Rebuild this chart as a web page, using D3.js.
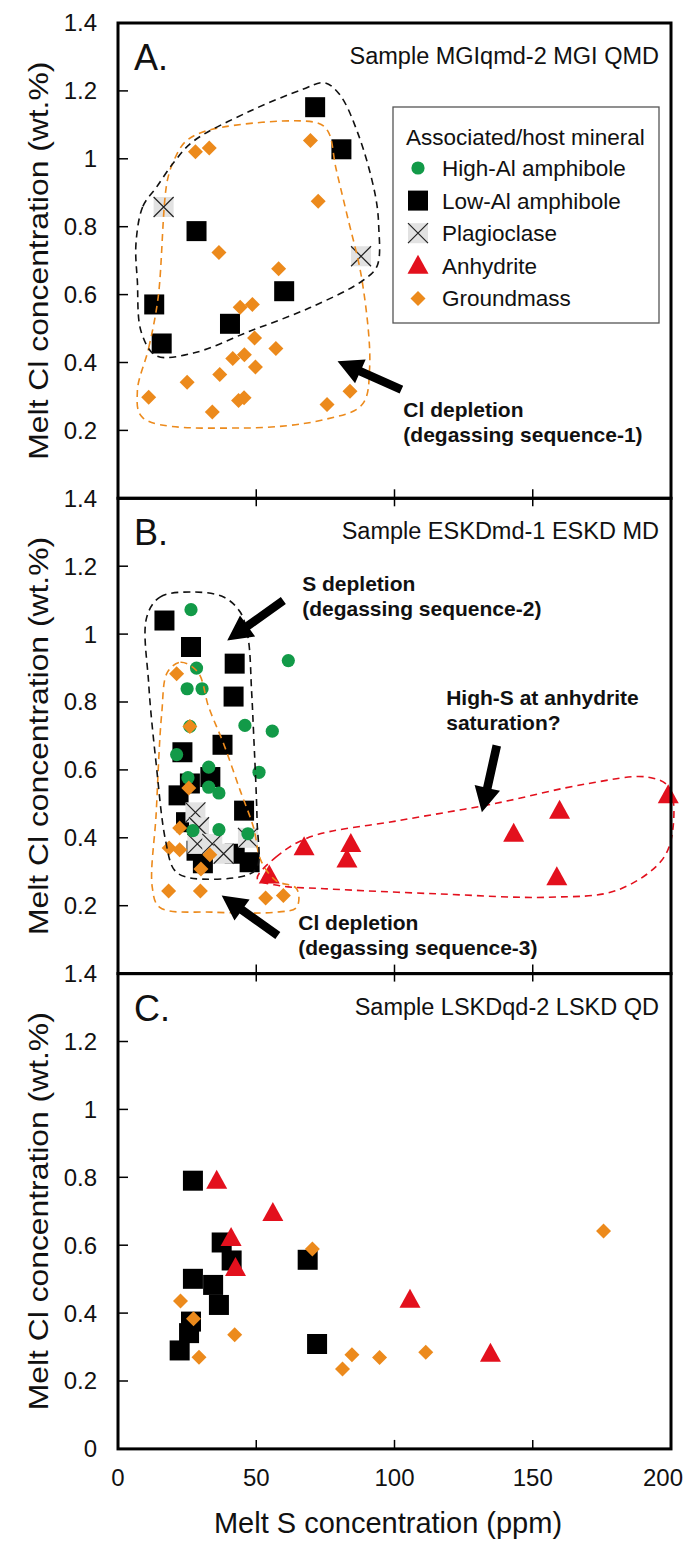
<!DOCTYPE html>
<html>
<head>
<meta charset="utf-8">
<title>Melt Cl vs melt S</title>
<script src="https://cdn.jsdelivr.net/npm/d3@7"></script>
<style>
body { margin: 0; background: #fff; }
svg text { font-family: "Liberation Sans", Arial, Helvetica, sans-serif; fill: #111; }
</style>
</head>
<body>
<div id="chart"></div>
<script>

// ---- data (S ppm, Cl wt.%) ----
// panel A : MGIqmd-2
const aLowAl = [[71.3,1.152],[80.8,1.028],[28.4,0.787],[13.1,0.571],[15.8,0.456],[40.5,0.514],[60.1,0.610]];
const aPlag = [[16.5,0.858],[87.9,0.713]];
const aGround = [[69.6,1.054],[28.0,1.021],[33.0,1.032],[72.4,0.875],[36.5,0.724],[58.1,0.676],[44.2,0.563],
	[48.6,0.571],[49.4,0.472],[57.1,0.441],[41.5,0.412],[45.7,0.423],[49.7,0.387],[36.8,0.365],[25.0,0.342],
	[11.1,0.298],[34.1,0.254],[43.6,0.288],[45.6,0.296],[75.6,0.276],[83.9,0.315]];

// panel B : ESKDmd-1
const bHighAl = [[26.4,1.072],[61.6,0.922],[28.4,0.900],[25.0,0.839],[30.4,0.839],[26.0,0.728],[45.9,0.731],
	[55.8,0.714],[21.2,0.645],[32.8,0.608],[51.0,0.593],[25.3,0.577],[32.8,0.549],[36.5,0.532],[27.1,0.421],
	[36.5,0.424],[47.0,0.412]];
const bLowAl = [[16.8,1.040],[26.4,0.962],[42.2,0.913],[41.8,0.816],[23.3,0.652],[37.8,0.674],[33.4,0.579],
	[26.0,0.560],[21.9,0.525],[45.6,0.480],[24.6,0.446],[28.4,0.362],[30.7,0.325],[42.2,0.353],[47.6,0.328]];
const bPlag = [[28.0,0.475],[29.3,0.431],[28.7,0.382],[34.1,0.382],[38.2,0.353],[47.0,0.400]];
const bAnhy = [[54.7,0.289],[67.3,0.372],[84.2,0.382],[82.8,0.336],[143.1,0.412],[159.7,0.480],[158.7,0.284],[199.0,0.525]];
const bGround = [[21.2,0.883],[26.0,0.728],[25.6,0.547],[22.3,0.429],[18.5,0.370],[22.3,0.365],[33.2,0.350],
	[30.0,0.308],[18.3,0.243],[29.8,0.243],[53.4,0.223],[59.8,0.230]];

// panel C : LSKDqd-2
const cLowAl = [[27.1,0.790],[37.5,0.608],[41.1,0.555],[68.6,0.557],[27.1,0.501],[34.4,0.483],[36.5,0.424],
	[26.4,0.375],[25.7,0.341],[22.3,0.290],[72.0,0.309]];
const cAnhy = [[35.7,0.790],[56.0,0.695],[40.9,0.621],[42.5,0.533],[105.6,0.439],[134.7,0.280]];
const cGround = [[70.3,0.589],[175.6,0.642],[22.6,0.436],[27.3,0.383],[42.2,0.336],[29.3,0.270],[84.6,0.277],
	[94.6,0.269],[81.2,0.235],[111.3,0.285]];

// dashed outlines (S, Cl)
const aHullBlack = [[6.5,0.75],[9,0.86],[13.8,0.915],[20.5,0.993],[27.3,1.052],[47.6,1.14],[66.6,1.204],[74.6,1.224],
	[80.1,1.19],[86.9,1.072],[93.0,0.895],[94.3,0.80],[93.7,0.684],[88.3,0.640],[69.3,0.561],[47.6,0.492],
	[27.3,0.428],[13.8,0.42],[8.4,0.49],[7.0,0.64]];
const aHullOrange = [[7.0,0.315],[11.1,0.443],[14.5,0.590],[17.8,0.934],[20.5,1.0],[24.6,1.052],[34.1,1.087],
	[72,1.106],[76,1.08],[78.8,0.973],[82.8,0.836],[88.3,0.64],[91.0,0.384],[88.3,0.276],[74.7,0.232],
	[44.9,0.207],[9.0,0.237]];
const bHullBlack = [[10.4,1.05],[15.2,1.109],[27.3,1.124],[38.2,1.109],[44.2,1.065],[47.0,0.991],[48.3,0.834],
	[49,0.716],[50.3,0.451],[50.3,0.313],[46.3,0.289],[26,0.282],[20.5,0.304],[17.2,0.392],[13.8,0.618],[11.1,0.854]];
const bHullOrange = [[17.9,0.888],[22.6,0.917],[28.9,0.888],[32.8,0.785],[38.2,0.677],[44.2,0.539],[49.0,0.431],
	[51.7,0.333],[57.1,0.274],[64.6,0.25],[64.6,0.195],[57.1,0.181],[34.1,0.181],[15.1,0.195],[12.4,0.254],
	[13.8,0.471],[15.8,0.765]];
const bHullRed = [[50.4,0.279],[57.1,0.343],[69.3,0.402],[101.8,0.451],[135.7,0.5],[169.5,0.559],[191.2,0.579],
	[199.3,0.549],[200.6,0.421],[196.6,0.333],[180.3,0.245],[155.9,0.225],[115.3,0.235],[74.7,0.25],[58.5,0.259]];

// arrows: tail -> head
const aArrows = [[[102.5,0.32],[79.4,0.404]]];
const bArrows = [[[59.8,1.099],[39.5,0.981]], [[137,0.672],[131.6,0.475]], [[57.8,0.112],[37.5,0.23]]];

// notes: [S, Cl, line1, line2]
const aNotes = [[103.2,0.239,"Cl depletion","(degassing sequence-1)"]];
const bNotes = [[66.6,1.127,"S depletion","(degassing sequence-2)"],
	[118.7,0.791,"High-S at anhydrite","saturation?"],
	[65.2,0.128,"Cl depletion","(degassing sequence-3)"]];

const xTicks = [0, 50, 100, 150, 200];
const yTicks = [0, 0.2, 0.4, 0.6, 0.8, 1, 1.2, 1.4];
const legendNames = ["High-Al amphibole","Low-Al amphibole","Plagioclase","Anhydrite","Groundmass"];
const legendTypes = ["circle","square","plag","triangle","diamond"];


// ---- layout ----
const W = 684, H = 1544;
const left = 118, right = 671;
const top0 = 23, panelH = 475.3;

const green = "#129a48", orange = "#ec8a1c", red = "#e3101d";

const x = d3.scaleLinear().domain([0, 200]).range([left, right]);

const panels = [
	{letter: "A.", sample: "Sample MGIqmd-2 MGI QMD",
	 series: [["square", aLowAl], ["plag", aPlag], ["diamond", aGround]],
	 hulls: [[aHullOrange, orange], [aHullBlack, "#111"]],
	 arrows: aArrows, notes: aNotes, legend: true},
	{letter: "B.", sample: "Sample ESKDmd-1 ESKD MD",
	 series: [["square", bLowAl], ["plag", bPlag], ["circle", bHighAl], ["triangle", bAnhy], ["diamond", bGround]],
	 hulls: [[bHullOrange, orange], [bHullBlack, "#111"], [bHullRed, red]],
	 arrows: bArrows, notes: bNotes, legend: false},
	{letter: "C.", sample: "Sample LSKDqd-2 LSKD QD",
	 series: [["square", cLowAl], ["triangle", cAnhy], ["diamond", cGround]],
	 hulls: [], arrows: [], notes: [], legend: false}
];

let svg = d3.select("#chart").append("svg")
	.attr("width", W)
	.attr("height", H);

function marker(g, type, cx, cy) {
	if (type == "square") {
		g.append("rect").attr("x", cx - 10).attr("y", cy - 10).attr("width", 20).attr("height", 20).attr("fill", "#000");
	} else if (type == "plag") {
		g.append("rect").attr("x", cx - 10).attr("y", cy - 10).attr("width", 20).attr("height", 20).attr("fill", "#e2e2e2");
		g.append("path").attr("d", `M${cx-10},${cy-10}L${cx+10},${cy+10}M${cx+10},${cy-10}L${cx-10},${cy+10}`)
			.attr("stroke", "#222").attr("stroke-width", 1.2);
	} else if (type == "circle") {
		g.append("circle").attr("cx", cx).attr("cy", cy).attr("r", 6.6).attr("fill", green);
	} else if (type == "triangle") {
		g.append("path").attr("d", `M${cx},${cy-11}L${cx+10.5},${cy+8}L${cx-10.5},${cy+8}Z`).attr("fill", red);
	} else if (type == "diamond") {
		g.append("path").attr("d", `M${cx},${cy-7.5}L${cx+7.5},${cy}L${cx},${cy+7.5}L${cx-7.5},${cy}Z`).attr("fill", orange);
	}
}

function arrow(g, p0, p1) {
	const dx = p1[0] - p0[0], dy = p1[1] - p0[1];
	const len = Math.sqrt(dx*dx + dy*dy);
	const ux = dx/len, uy = dy/len, nx = -uy, ny = ux;
	const hl = 25, hw = 13, sw = 4.3;
	const bx = p1[0] - ux*hl, by = p1[1] - uy*hl;
	const pts = [
		[p0[0] + nx*sw, p0[1] + ny*sw], [bx + nx*sw, by + ny*sw], [bx + nx*hw, by + ny*hw], p1,
		[bx - nx*hw, by - ny*hw], [bx - nx*sw, by - ny*sw], [p0[0] - nx*sw, p0[1] - ny*sw]];
	g.append("path").attr("d", "M" + pts.map(p => p.join(",")).join("L") + "Z").attr("fill", "#000");
}

panels.forEach((p, i) => {
	const top = top0 + i*panelH, bottom = top + panelH;
	const y = d3.scaleLinear().domain([0, 1.4]).range([bottom, top]);
	const g = svg.append("g").attr("class", "panel" + i);

	// points
	p.series.forEach(s => {
		const sg = g.append("g").attr("class", s[0]);
		s[1].forEach(d => marker(sg, s[0], x(d[0]), y(d[1])));
	});

	// dashed outlines on top of the points
	const line = d3.line().x(d => x(d[0])).y(d => y(d[1])).curve(d3.curveCatmullRomClosed.alpha(0.5));
	p.hulls.forEach(h => {
		g.append("path").datum(h[0]).attr("d", line)
			.attr("fill", "none").attr("stroke", h[1]).attr("stroke-width", 1.6).attr("stroke-dasharray", "7,5");
	});

	p.arrows.forEach(a => arrow(g, [x(a[0][0]), y(a[0][1])], [x(a[1][0]), y(a[1][1])]));

	p.notes.forEach(n => {
		const t = g.append("text").attr("x", x(n[0])).attr("y", y(n[1]))
			.attr("font-size", 21).attr("font-weight", "bold");
		t.append("tspan").text(n[2]);
		t.append("tspan").attr("x", x(n[0])).attr("dy", 25).text(n[3]);
	});

	// frame
	g.append("rect").attr("x", left).attr("y", top).attr("width", right - left).attr("height", panelH)
		.attr("fill", "none").attr("stroke", "#000").attr("stroke-width", 3);

	// y ticks (inside) and labels
	yTicks.forEach(v => {
		if (v > 0 && v < 1.4) {
			g.append("line").attr("x1", left).attr("x2", left + 10).attr("y1", y(v)).attr("y2", y(v))
				.attr("stroke", "#000").attr("stroke-width", 1.5);
		}
		if (v > 0 || i == 2) {
			g.append("text").attr("x", 97).attr("y", y(v)).attr("dy", "0.35em")
				.attr("text-anchor", "end").attr("font-size", 24).text(v);
		}
	});

	// x ticks (inside) at bottom, and at top for lower panels
	xTicks.slice(1, -1).forEach(v => {
		g.append("line").attr("x1", x(v)).attr("x2", x(v)).attr("y1", bottom).attr("y2", bottom - 9)
			.attr("stroke", "#000").attr("stroke-width", 1.5);
		if (i > 0) {
			g.append("line").attr("x1", x(v)).attr("x2", x(v)).attr("y1", top).attr("y2", top + 8)
				.attr("stroke", "#000").attr("stroke-width", 1.5);
		}
	});

	g.append("text").attr("x", left + 16).attr("y", top + 47).attr("font-size", 36).text(p.letter);
	g.append("text").attr("x", right - 12).attr("y", top + 41).attr("text-anchor", "end")
		.attr("font-size", 23.5).text(p.sample);

	// y title, stretched along its length like the reference
	g.append("text").attr("transform", `translate(48,${top + panelH/2}) rotate(-90)`)
		.attr("text-anchor", "middle").attr("font-size", 28)
		.attr("textLength", 398).attr("lengthAdjust", "spacingAndGlyphs")
		.text("Melt Cl concentration (wt.%)");

	if (p.legend) {
		const lg = g.append("g").attr("class", "legend");
		lg.append("rect").attr("x", 393).attr("y", top + 84).attr("width", 266).attr("height", 216)
			.attr("fill", "#fff").attr("stroke", "#555").attr("stroke-width", 1.3);
		lg.append("text").attr("x", 406).attr("y", top + 122).attr("font-size", 22.5).text("Associated/host mineral");
		legendNames.forEach((name, k) => {
			const cy = top + 145 + k*32.6;
			marker(lg, legendTypes[k], 418, cy);
			lg.append("text").attr("x", 442).attr("y", cy + 8).attr("font-size", 22.5).text(name);
		});
	}
});

// x axis labels
const axBottom = top0 + 3*panelH;
xTicks.forEach(v => {
	const last = v == 200;
	svg.append("text").attr("x", last ? W - 1 : x(v)).attr("y", axBottom + 37)
		.attr("text-anchor", last ? "end" : "middle")
		.attr("font-size", 24).text(v);
});
svg.append("text").attr("x", 388).attr("y", axBottom + 84).attr("text-anchor", "middle")
	.attr("font-size", 29).text("Melt S concentration (ppm)");

</script>
</body>
</html>
